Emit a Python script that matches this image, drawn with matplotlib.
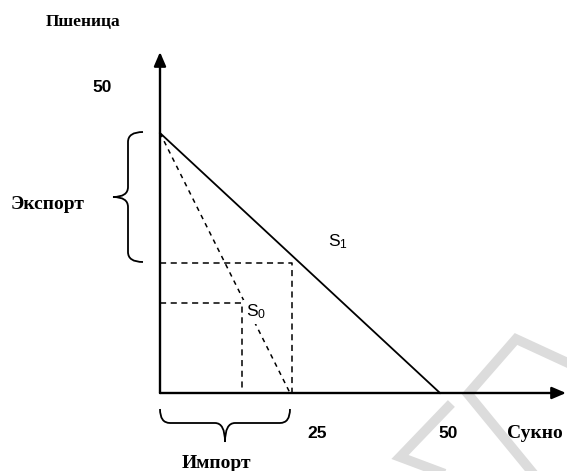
import numpy as np
import matplotlib
matplotlib.use("Agg")
import matplotlib.pyplot as plt
from matplotlib.path import Path
from matplotlib.patches import PathPatch

# diagram units, origin where the two axes cross
wheat_max = 26.0          # both production lines start here
cloth_s1 = 28.0           # S1 meets the cloth axis
cloth_s0 = 13.0           # S0 meets the cloth axis
trade_x = [13.2, 8.2]     # corners of the dashed rectangles
trade_y = [13.0, 9.0]
axis_end = [40.6, 34.1]   # arrow tips (x, y)

# grey watermark strokes
mark_a_x = [40.8, 35.6, 30.8, 37.2]
mark_a_y = [3.0, 5.4, -0.1, -7.9]
mark_b_x = [28.8, 24.0, 28.0]
mark_b_y = [-1.4, -6.4, -7.9]

serif = "Liberation Serif"
sans = "Liberation Sans"


def brace(ax, p0, p1, normal, h, t, r, lw=1.3):
    """curly brace from p0 to p1, tip pointing along normal"""
    p0 = np.array(p0, float)
    p1 = np.array(p1, float)
    n = np.array(normal, float)
    L = np.hypot(*(p1 - p0))
    e = (p1 - p0) / L
    local = [(0, 0), (0, h), (r, h),
             (L / 2 - r, h), (L / 2, h), (L / 2, h + t),
             (L / 2, h), (L / 2 + r, h),
             (L - r, h), (L, h), (L, 0)]
    codes = [Path.MOVETO, Path.CURVE3, Path.CURVE3,
             Path.LINETO, Path.CURVE3, Path.CURVE3,
             Path.CURVE3, Path.CURVE3,
             Path.LINETO, Path.CURVE3, Path.CURVE3]
    pts = [p0 + u * e + v * n for u, v in local]
    ax.add_patch(PathPatch(Path(pts, codes), fill=False, lw=lw, color="k"))


fig = plt.figure(figsize=(5.67, 4.71), dpi=100)
ax = fig.add_axes([0, 0, 1, 1])
ax.set_xlim(-16.0, 40.7)
ax.set_ylim(-7.8, 39.3)
ax.axis("off")

# watermark
ax.plot(mark_a_x, mark_a_y, color="#dcdcdc", lw=7, zorder=0, solid_joinstyle="miter")
ax.plot(mark_b_x, mark_b_y, color="#dcdcdc", lw=7, zorder=0, solid_joinstyle="miter")

# axes with arrows
head = "-|>,head_length=0.7,head_width=0.3"
ax.annotate("", xy=(axis_end[0], 0), xytext=(0, 0), annotation_clip=False,
            arrowprops=dict(arrowstyle=head, lw=1.7, color="k", mutation_scale=12,
                            shrinkA=0, shrinkB=0))
ax.annotate("", xy=(0, axis_end[1]), xytext=(0, 0), annotation_clip=False,
            arrowprops=dict(arrowstyle=head, lw=1.7, color="k", mutation_scale=12,
                            shrinkA=0, shrinkB=0))

# production possibility lines
ax.plot([0, cloth_s1], [wheat_max, 0], color="k", lw=1.3)
ax.plot([0, cloth_s0], [wheat_max, 0], color="k", lw=1.1, ls=(0, (3, 3)))

# dashed rectangles
for x, y in zip(trade_x, trade_y):
    ax.plot([0, x, x], [y, y, 0], color="k", lw=1.1, ls=(0, (4, 3)))

# braces
brace(ax, (-1.7, 26.1), (-1.7, 13.1), (-1, 0), h=1.5, t=1.5, r=1.0)
brace(ax, (0, -1.6), (13.0, -1.6), (0, -1), h=1.4, t=1.9, r=1.0)

# labels
ax.text(-7.7, 37.1, "Пшеница", family=serif, weight="bold", fontsize=12.5,
        ha="center", va="center")
ax.text(-5.8, 30.5, "50", family=sans, weight="bold", fontsize=12.5,
        ha="center", va="center")
ax.text(-11.2, 18.8, "Экспорт", family=serif, weight="bold", fontsize=14,
        ha="center", va="center")
ax.text(17.8, 15.1, r"$\mathregular{S_1}$", family=sans, fontsize=12.5,
        ha="center", va="center")
ax.text(9.6, 8.1, r"$\mathregular{S_0}$", family=sans, fontsize=12.5,
        ha="center", va="center",
        bbox=dict(fc="white", ec="none", pad=2))
ax.text(15.7, -4.0, "25", family=sans, weight="bold", fontsize=12.5,
        ha="center", va="center")
ax.text(28.8, -4.0, "50", family=sans, weight="bold", fontsize=12.5,
        ha="center", va="center")
ax.text(37.5, -4.1, "Сукно", family=serif, weight="bold", fontsize=14,
        ha="center", va="center")
ax.text(5.6, -7.1, "Импорт", family=serif, weight="bold", fontsize=14,
        ha="center", va="center")

fig.savefig("out.png", dpi=100)
